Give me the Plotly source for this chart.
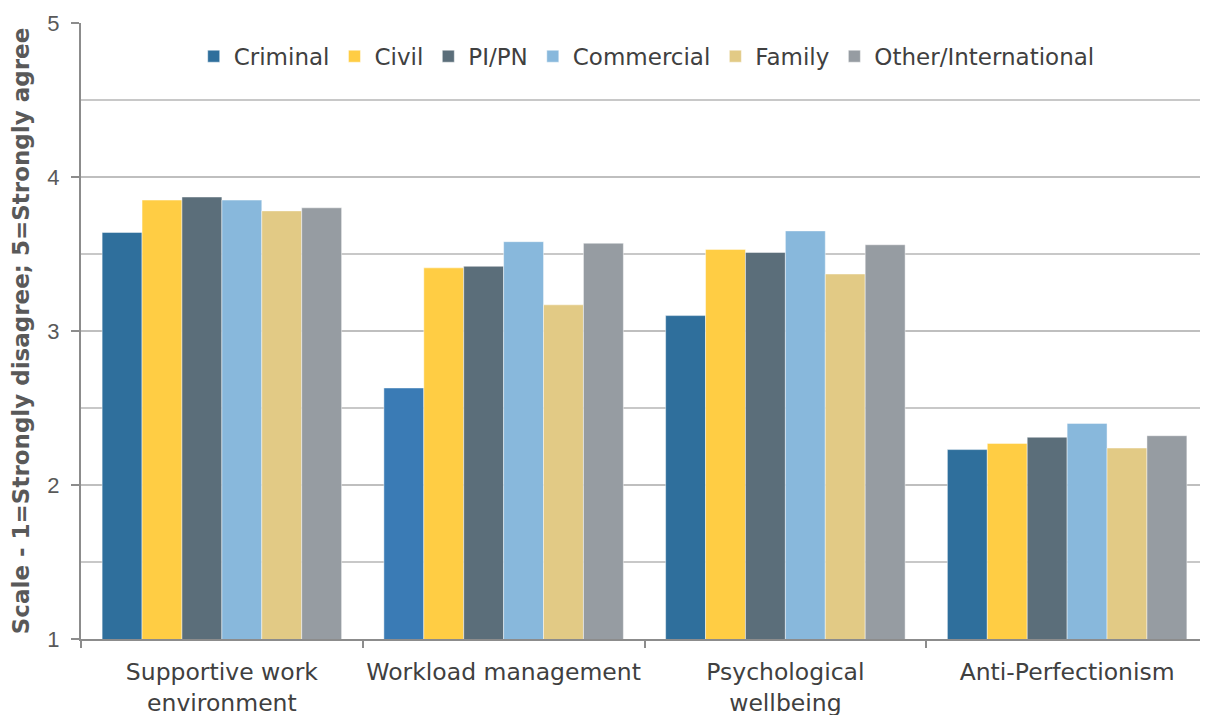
import plotly.graph_objects as go

categories = ["Supportive work<br>environment", "Workload management",
              "Psychological<br>wellbeing", "Anti-Perfectionism"]
series_names = ["Criminal", "Civil", "PI/PN", "Commercial", "Family", "Other/International"]
criminal = [3.64, 2.63, 3.10, 2.23]
civil = [3.85, 3.41, 3.53, 2.27]
pipn = [3.87, 3.42, 3.51, 2.31]
commercial = [3.85, 3.58, 3.65, 2.40]
family = [3.78, 3.17, 3.37, 2.24]
other = [3.80, 3.57, 3.56, 2.32]
y_ticks = [1, 2, 3, 4, 5]

values = [criminal, civil, pipn, commercial, family, other]
colors = [["#2F6F9C", "#3A7BB5", "#2F6F9C", "#2F6F9C"],
          "#FFCD44", "#5B6E7A", "#88B8DC", "#E2CA85", "#969CA2"]

FONT = "DejaVu Sans, Liberation Sans, Arial, sans-serif"

fig = go.Figure()
for name, vals, col in zip(series_names, values, colors):
    fig.add_trace(go.Bar(
        name=name, x=categories, y=vals,
        marker=dict(color=col, line=dict(color="rgba(255,255,255,0.45)", width=1)),
    ))

fig.update_layout(
    width=1208, height=715,
    barmode="group", bargap=0.15, bargroupgap=0,
    plot_bgcolor="white", paper_bgcolor="white",
    margin=dict(l=73, r=8, t=15, b=84, autoexpand=False),
    font=dict(family=FONT, size=22, color="#404040"),
    legend=dict(orientation="h", x=0.1, y=0.946, xanchor="left", yanchor="middle",
                font=dict(family=FONT, size=23, color="#404040"), itemwidth=30,
                bgcolor="rgba(0,0,0,0)", traceorder="normal"),
    xaxis=dict(showline=True, linecolor="#8C8C8C", linewidth=2, automargin=False,
               ticks="outside", tickson="boundaries", ticklen=7, tickcolor="#8C8C8C",
               tickwidth=2, tickangle=0,
               tickfont=dict(family=FONT, size=23.5, color="#404040"),
               ticklabelstandoff=11),
    yaxis=dict(range=[1, 5], tickvals=y_ticks, showgrid=True, gridcolor="#BFBFBF",
               gridwidth=2, showline=True, linecolor="#8C8C8C", linewidth=2, automargin=False,
               ticks="outside", ticklen=8, tickcolor="#8C8C8C", tickwidth=2,
               tickfont=dict(family="Liberation Sans, Arial, sans-serif", size=22, color="#595959"),
               ticklabelstandoff=7, ticklabeloverflow="allow",
               minor=dict(dtick=0.5, showgrid=True, gridcolor="#C8C8C8", gridwidth=2),
               title=dict(text="<b>Scale - 1=Strongly disagree; 5=Strongly agree</b>",
                          font=dict(family=FONT, size=23, color="#595959"), standoff=11),
               zeroline=False),
)

fig.write_html("out.html")
